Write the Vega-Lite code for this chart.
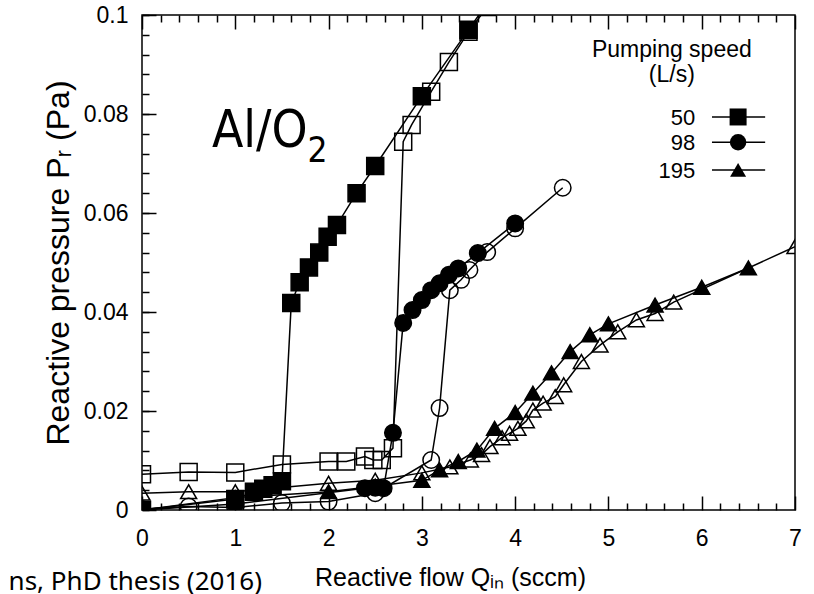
{
  "$schema": "https://vega.github.io/schema/vega-lite/v6.json",
  "width": 653,
  "height": 495,
  "autosize": {"type": "none"},
  "padding": {"left": 142, "top": 15, "right": 19, "bottom": 84},
  "background": "white",
  "config": {
    "view": {"stroke": "black", "strokeWidth": 1.5},
    "axis": {
      "domain": false,
      "grid": false,
      "tickColor": "black",
      "tickWidth": 1.5,
      "labelFont": "Liberation Sans",
      "labelFontSize": 23,
      "labelColor": "black",
      "labelOverlap": false,
      "labelFlush": false,
      "titleFont": "Liberation Sans",
      "titleFontSize": 25,
      "titleFontWeight": "normal",
      "titleColor": "black"
    }
  },
  "datasets": {
    "flow": [
      {"q": 0, "p": 0, "speed": "50", "branch": "filled"},
      {"q": 1.0, "p": 0.0022, "speed": "50", "branch": "filled"},
      {"q": 1.2, "p": 0.0037, "speed": "50", "branch": "filled"},
      {"q": 1.3, "p": 0.0043, "speed": "50", "branch": "filled"},
      {"q": 1.4, "p": 0.005, "speed": "50", "branch": "filled"},
      {"q": 1.5, "p": 0.0058, "speed": "50", "branch": "filled"},
      {"q": 1.6, "p": 0.0418, "speed": "50", "branch": "filled"},
      {"q": 1.69, "p": 0.046, "speed": "50", "branch": "filled"},
      {"q": 1.79, "p": 0.049, "speed": "50", "branch": "filled"},
      {"q": 1.9, "p": 0.052, "speed": "50", "branch": "filled"},
      {"q": 1.99, "p": 0.0552, "speed": "50", "branch": "filled"},
      {"q": 2.09, "p": 0.0576, "speed": "50", "branch": "filled"},
      {"q": 2.3, "p": 0.064, "speed": "50", "branch": "filled"},
      {"q": 2.5, "p": 0.0695, "speed": "50", "branch": "filled"},
      {"q": 3.0, "p": 0.0836, "speed": "50", "branch": "filled"},
      {"q": 3.5, "p": 0.097, "speed": "50", "branch": "filled"},
      {"q": 3.7, "p": 0.1024, "speed": "50", "branch": "filled"},

      {"q": 0, "p": 0.0072, "speed": "50", "branch": "open"},
      {"q": 0.5, "p": 0.0077, "speed": "50", "branch": "open"},
      {"q": 1.0, "p": 0.0076, "speed": "50", "branch": "open"},
      {"q": 1.5, "p": 0.0092, "speed": "50", "branch": "open"},
      {"q": 2.0, "p": 0.0098, "speed": "50", "branch": "open"},
      {"q": 2.19, "p": 0.0098, "speed": "50", "branch": "open"},
      {"q": 2.39, "p": 0.0108, "speed": "50", "branch": "open"},
      {"q": 2.48, "p": 0.0101, "speed": "50", "branch": "open"},
      {"q": 2.57, "p": 0.0101, "speed": "50", "branch": "open"},
      {"q": 2.69, "p": 0.0125, "speed": "50", "branch": "open"},
      {"q": 2.8, "p": 0.0744, "speed": "50", "branch": "open"},
      {"q": 2.89, "p": 0.0778, "speed": "50", "branch": "open"},
      {"q": 3.1, "p": 0.0845, "speed": "50", "branch": "open"},
      {"q": 3.29, "p": 0.0905, "speed": "50", "branch": "open"},
      {"q": 3.5, "p": 0.0966, "speed": "50", "branch": "open"},
      {"q": 3.7, "p": 0.1016, "speed": "50", "branch": "open"},

      {"q": 0, "p": 0, "speed": "98", "branch": "filled"},
      {"q": 1.0, "p": 0.0012, "speed": "98", "branch": "filled"},
      {"q": 2.39, "p": 0.0044, "speed": "98", "branch": "filled"},
      {"q": 2.5, "p": 0.0045, "speed": "98", "branch": "filled"},
      {"q": 2.59, "p": 0.0044, "speed": "98", "branch": "filled"},
      {"q": 2.69, "p": 0.0156, "speed": "98", "branch": "filled"},
      {"q": 2.8, "p": 0.0378, "speed": "98", "branch": "filled"},
      {"q": 2.9, "p": 0.0404, "speed": "98", "branch": "filled"},
      {"q": 3.0, "p": 0.0424, "speed": "98", "branch": "filled"},
      {"q": 3.1, "p": 0.0444, "speed": "98", "branch": "filled"},
      {"q": 3.19, "p": 0.0458, "speed": "98", "branch": "filled"},
      {"q": 3.29, "p": 0.0475, "speed": "98", "branch": "filled"},
      {"q": 3.39, "p": 0.0488, "speed": "98", "branch": "filled"},
      {"q": 3.6, "p": 0.0519, "speed": "98", "branch": "filled"},
      {"q": 4.0, "p": 0.0579, "speed": "98", "branch": "filled"},

      {"q": 0, "p": 0.0002, "speed": "98", "branch": "open"},
      {"q": 0.5, "p": 0.0007, "speed": "98", "branch": "open"},
      {"q": 1.0, "p": 0.0005, "speed": "98", "branch": "open"},
      {"q": 1.5, "p": 0.0014, "speed": "98", "branch": "open"},
      {"q": 2.0, "p": 0.0017, "speed": "98", "branch": "open"},
      {"q": 2.5, "p": 0.0034, "speed": "98", "branch": "open"},
      {"q": 3.1, "p": 0.0101, "speed": "98", "branch": "open"},
      {"q": 3.19, "p": 0.0206, "speed": "98", "branch": "open"},
      {"q": 3.3, "p": 0.0444, "speed": "98", "branch": "open"},
      {"q": 3.42, "p": 0.0465, "speed": "98", "branch": "open"},
      {"q": 3.51, "p": 0.0485, "speed": "98", "branch": "open"},
      {"q": 3.7, "p": 0.0521, "speed": "98", "branch": "open"},
      {"q": 4.0, "p": 0.0569, "speed": "98", "branch": "open"},
      {"q": 4.51, "p": 0.0651, "speed": "98", "branch": "open"},

      {"q": 0, "p": 0, "speed": "195", "branch": "filled"},
      {"q": 1.0, "p": 0.0025, "speed": "195", "branch": "filled"},
      {"q": 2.0, "p": 0.0037, "speed": "195", "branch": "filled"},
      {"q": 2.5, "p": 0.0048, "speed": "195", "branch": "filled"},
      {"q": 3.0, "p": 0.006, "speed": "195", "branch": "filled"},
      {"q": 3.19, "p": 0.0081, "speed": "195", "branch": "filled"},
      {"q": 3.39, "p": 0.0098, "speed": "195", "branch": "filled"},
      {"q": 3.59, "p": 0.0121, "speed": "195", "branch": "filled"},
      {"q": 3.78, "p": 0.0165, "speed": "195", "branch": "filled"},
      {"q": 4.0, "p": 0.0197, "speed": "195", "branch": "filled"},
      {"q": 4.19, "p": 0.0236, "speed": "195", "branch": "filled"},
      {"q": 4.39, "p": 0.0277, "speed": "195", "branch": "filled"},
      {"q": 4.59, "p": 0.032, "speed": "195", "branch": "filled"},
      {"q": 4.8, "p": 0.0354, "speed": "195", "branch": "filled"},
      {"q": 5.0, "p": 0.0376, "speed": "195", "branch": "filled"},
      {"q": 5.5, "p": 0.0414, "speed": "195", "branch": "filled"},
      {"q": 6.0, "p": 0.045, "speed": "195", "branch": "filled"},
      {"q": 6.5, "p": 0.0489, "speed": "195", "branch": "filled"},

      {"q": 0, "p": 0.0034, "speed": "195", "branch": "open"},
      {"q": 0.5, "p": 0.0037, "speed": "195", "branch": "open"},
      {"q": 1.0, "p": 0.0037, "speed": "195", "branch": "open"},
      {"q": 2.0, "p": 0.0054, "speed": "195", "branch": "open"},
      {"q": 2.5, "p": 0.006, "speed": "195", "branch": "open"},
      {"q": 3.0, "p": 0.0075, "speed": "195", "branch": "open"},
      {"q": 3.3, "p": 0.0087, "speed": "195", "branch": "open"},
      {"q": 3.52, "p": 0.0101, "speed": "195", "branch": "open"},
      {"q": 3.64, "p": 0.0112, "speed": "195", "branch": "open"},
      {"q": 3.73, "p": 0.0128, "speed": "195", "branch": "open"},
      {"q": 3.86, "p": 0.0146, "speed": "195", "branch": "open"},
      {"q": 3.94, "p": 0.0155, "speed": "195", "branch": "open"},
      {"q": 4.03, "p": 0.0165, "speed": "195", "branch": "open"},
      {"q": 4.12, "p": 0.018, "speed": "195", "branch": "open"},
      {"q": 4.19, "p": 0.0202, "speed": "195", "branch": "open"},
      {"q": 4.3, "p": 0.0216, "speed": "195", "branch": "open"},
      {"q": 4.43, "p": 0.0229, "speed": "195", "branch": "open"},
      {"q": 4.52, "p": 0.0253, "speed": "195", "branch": "open"},
      {"q": 4.71, "p": 0.03, "speed": "195", "branch": "open"},
      {"q": 4.91, "p": 0.0333, "speed": "195", "branch": "open"},
      {"q": 5.1, "p": 0.036, "speed": "195", "branch": "open"},
      {"q": 5.3, "p": 0.0384, "speed": "195", "branch": "open"},
      {"q": 5.5, "p": 0.0397, "speed": "195", "branch": "open"},
      {"q": 5.7, "p": 0.042, "speed": "195", "branch": "open"},
      {"q": 7.0, "p": 0.0532, "speed": "195", "branch": "open"}
    ]
  },
  "layer": [
    {
      "data": {"name": "flow"},
      "mark": {"type": "line", "color": "black", "strokeWidth": 1.5, "clip": true},
      "encoding": {
        "x": {
          "field": "q", "type": "quantitative",
          "scale": {"domain": [0, 7], "nice": false, "zero": false},
          "axis": {
            "orient": "bottom",
            "values": [0,0.2,0.4,0.6,0.8,1,1.2,1.4,1.6,1.8,2,2.2,2.4,2.6,2.8,3,3.2,3.4,3.6,3.8,4,4.2,4.4,4.6,4.8,5,5.2,5.4,5.6,5.8,6,6.2,6.4,6.6,6.8,7],
            "tickSize": {"condition": {"test": "abs(datum.value - round(datum.value)) < 1e-6", "value": -14}, "value": -7},
            "labelExpr": "abs(datum.value - round(datum.value)) < 1e-6 ? format(datum.value, 'd') : ''",
            "labelPadding": 31,
            "title": "Reactive flow Qᵢₙ (sccm)",
            "titleX": 308,
            "titlePadding": 8
          }
        },
        "y": {
          "field": "p", "type": "quantitative",
          "scale": {"domain": [0, 0.1], "nice": false, "zero": false},
          "axis": {
            "orient": "left",
            "values": [0, 0.02, 0.04, 0.06, 0.08, 0.1],
            "format": "~g",
            "tickSize": -14,
            "labelPadding": 28,
            "title": "Reactive pressure Pᵣ (Pa)",
            "titleFontSize": 32,
            "titlePadding": 8
          }
        },
        "detail": [{"field": "speed"}, {"field": "branch"}]
      }
    },
    {
      "data": {"name": "flow"},
      "mark": {"type": "point", "filled": true, "stroke": "black", "strokeWidth": 1.5, "opacity": 1, "clip": true},
      "encoding": {
        "x": {
          "field": "q", "type": "quantitative",
          "scale": {"domain": [0, 7], "nice": false, "zero": false},
          "axis": {
            "orient": "top",
            "values": [0,0.2,0.4,0.6,0.8,1,1.2,1.4,1.6,1.8,2,2.2,2.4,2.6,2.8,3,3.2,3.4,3.6,3.8,4,4.2,4.4,4.6,4.8,5,5.2,5.4,5.6,5.8,6,6.2,6.4,6.6,6.8,7],
            "tickSize": {"condition": {"test": "abs(datum.value - round(datum.value)) < 1e-6", "value": -14}, "value": -7},
            "labels": false,
            "title": null
          }
        },
        "y": {
          "field": "p", "type": "quantitative",
          "scale": {"domain": [0, 0.1], "nice": false, "zero": false},
          "axis": {
            "orient": "left",
            "values": [0,0.004,0.008,0.012,0.016,0.02,0.024,0.028,0.032,0.036,0.04,0.044,0.048,0.052,0.056,0.06,0.064,0.068,0.072,0.076,0.08,0.084,0.088,0.092,0.096,0.1],
            "tickSize": -7,
            "labels": false,
            "title": null
          }
        },
        "shape": {
          "field": "speed", "type": "nominal",
          "scale": {"domain": ["50", "98", "195"], "range": ["square", "circle", "triangle-up"]},
          "legend": null
        },
        "size": {
          "field": "speed", "type": "ordinal",
          "scale": {"domain": ["50", "98", "195"], "range": [289, 256, 310]},
          "legend": null
        },
        "fill": {
          "field": "branch", "type": "nominal",
          "scale": {"domain": ["filled", "open"], "range": ["black", "transparent"]},
          "legend": null
        }
      }
    },
    {
      "data": {"values": [{}]},
      "mark": {"type": "text", "text": "Al/O", "align": "left", "baseline": "alphabetic", "font": "Liberation Sans Narrow, DejaVu Sans Condensed, Noto Sans", "fontSize": 51, "color": "black"},
      "encoding": {
        "x": {"datum": 0.75, "type": "quantitative", "scale": {"domain": [0, 7], "nice": false, "zero": false}, "axis": null},
        "y": {"datum": 0.0733, "type": "quantitative", "scale": {"domain": [0, 0.1], "nice": false, "zero": false}, "axis": null}
      }
    },
    {
      "data": {"values": [{}]},
      "mark": {"type": "text", "text": "2", "align": "left", "baseline": "alphabetic", "font": "Liberation Sans Narrow, DejaVu Sans Condensed, Noto Sans", "fontSize": 35, "color": "black"},
      "encoding": {
        "x": {"datum": 1.775, "type": "quantitative", "scale": {"domain": [0, 7], "nice": false, "zero": false}, "axis": null},
        "y": {"datum": 0.0703, "type": "quantitative", "scale": {"domain": [0, 0.1], "nice": false, "zero": false}, "axis": null}
      }
    },
    {
      "data": {"values": [{}]},
      "mark": {"type": "text", "text": ["Pumping speed", "(L/s)"], "align": "center", "baseline": "alphabetic", "lineHeight": 25, "font": "Liberation Sans", "fontSize": 23, "color": "black"},
      "encoding": {
        "x": {"datum": 5.68, "type": "quantitative", "scale": {"domain": [0, 7], "nice": false, "zero": false}, "axis": null},
        "y": {"datum": 0.0915, "type": "quantitative", "scale": {"domain": [0, 0.1], "nice": false, "zero": false}, "axis": null}
      }
    },
    {
      "data": {"values": [{}]},
      "mark": {"type": "text", "text": "ns, PhD thesis (2016)", "align": "right", "baseline": "alphabetic", "font": "Noto Sans", "fontSize": 26, "color": "black"},
      "encoding": {
        "x": {"datum": 1.286, "type": "quantitative", "scale": {"domain": [0, 7], "nice": false, "zero": false}, "axis": null},
        "y": {"datum": -0.0162, "type": "quantitative", "scale": {"domain": [0, 0.1], "nice": false, "zero": false}, "axis": null}
      }
    },
    {
      "data": {"values": [{"speed": "50", "row": 0.0794}, {"speed": "98", "row": 0.0743}, {"speed": "195", "row": 0.0687}]},
      "layer": [
        {
          "mark": {"type": "rule", "color": "black", "strokeWidth": 1.5},
          "encoding": {
            "x": {"datum": 6.11, "type": "quantitative", "scale": {"domain": [0, 7], "nice": false, "zero": false}, "axis": null},
            "x2": {"datum": 6.68},
            "y": {"field": "row", "type": "quantitative", "scale": {"domain": [0, 0.1], "nice": false, "zero": false}, "axis": null}
          }
        },
        {
          "mark": {"type": "point", "filled": true, "color": "black", "opacity": 1},
          "encoding": {
            "x": {"datum": 6.39, "type": "quantitative", "scale": {"domain": [0, 7], "nice": false, "zero": false}, "axis": null},
            "y": {"field": "row", "type": "quantitative", "scale": {"domain": [0, 0.1], "nice": false, "zero": false}, "axis": null},
            "shape": {
              "field": "speed", "type": "nominal",
              "scale": {"domain": ["50", "98", "195"], "range": ["square", "circle", "triangle-up"]},
              "legend": null
            },
            "size": {
              "field": "speed", "type": "ordinal",
              "scale": {"domain": ["50", "98", "195"], "range": [289, 256, 310]},
              "legend": null
            }
          }
        },
        {
          "mark": {"type": "text", "align": "right", "baseline": "middle", "dy": 1, "font": "Liberation Sans", "fontSize": 22, "color": "black"},
          "encoding": {
            "x": {"datum": 5.93, "type": "quantitative", "scale": {"domain": [0, 7], "nice": false, "zero": false}, "axis": null},
            "y": {"field": "row", "type": "quantitative", "scale": {"domain": [0, 0.1], "nice": false, "zero": false}, "axis": null},
            "text": {"field": "speed"}
          }
        }
      ]
    }
  ],
  "resolve": {"axis": {"x": "independent", "y": "independent"}}
}
